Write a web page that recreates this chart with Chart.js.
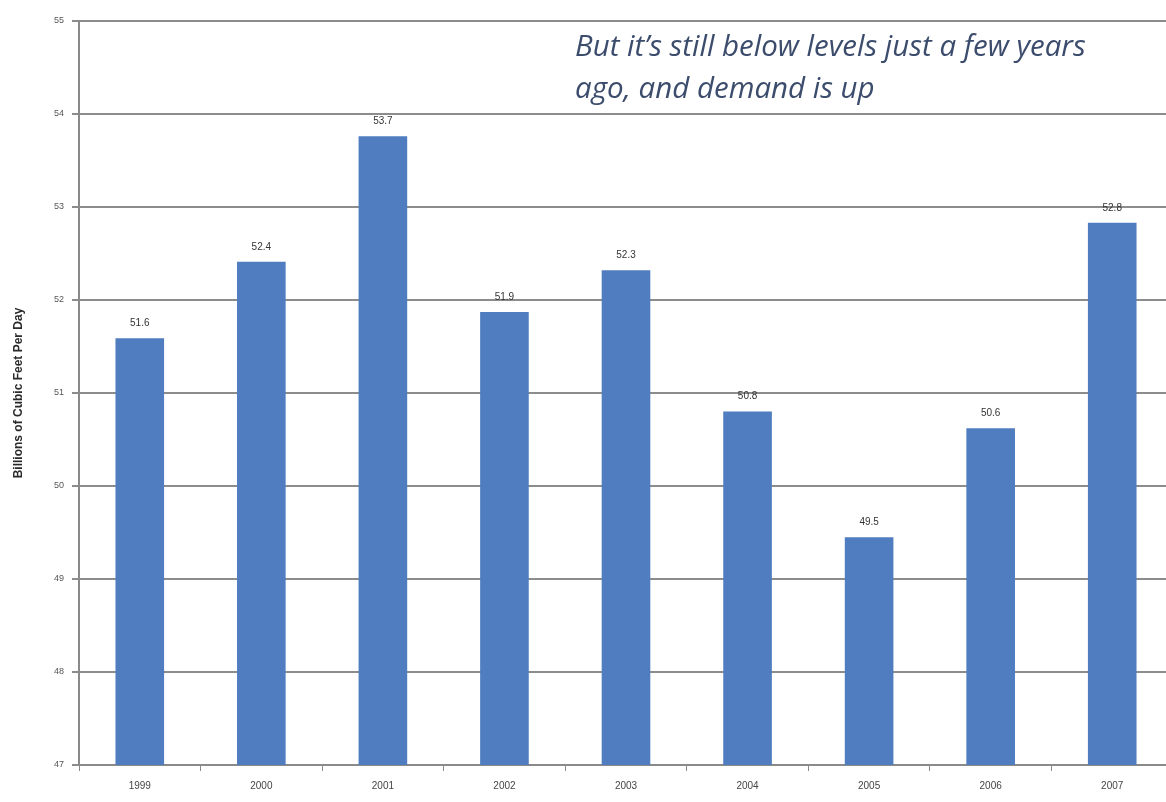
<!DOCTYPE html>
<html>
<head>
<meta charset="utf-8">
<script src="https://cdn.jsdelivr.net/npm/chart.js@4.4.1/dist/chart.umd.min.js"></script>
<style>
  html, body { margin: 0; padding: 0; background: #ffffff; overflow: hidden; }
  #wrap { position: relative; width: 1173px; height: 802px; }
</style>
</head>
<body>
<div id="wrap"><canvas id="c"></canvas></div>
<script>
const categories = ['1999', '2000', '2001', '2002', '2003', '2004', '2005', '2006', '2007'];
const values = [51.59, 52.41, 53.76, 51.87, 52.32, 50.80, 49.45, 50.62, 52.83];
const valueLabels = ['51.6', '52.4', '53.7', '51.9', '52.3', '50.8', '49.5', '50.6', '52.8'];
const yTicks = [47, 48, 49, 50, 51, 52, 53, 54, 55];
const annotationLines = ['But it\u2019s still below levels just a few years', 'ago, and demand is up'];
const yTitle = 'Billions of Cubic Feet Per Day';

const labelPlugin = {
  id: 'labels',
  afterDatasetsDraw(chart) {
    const ctx = chart.ctx;
    const meta = chart.getDatasetMeta(0);
    ctx.save();
    ctx.font = '10px "Liberation Sans", Arial, sans-serif';
    ctx.fillStyle = '#333333';
    ctx.textAlign = 'center';
    ctx.textBaseline = 'bottom';
    meta.data.forEach((bar, i) => {
      ctx.fillText(valueLabels[i], bar.x, bar.y - 10);
    });
    ctx.font = 'italic 29.5px "Open Sans", "Noto Sans", sans-serif';
    ctx.fillStyle = '#3c4c6c';
    ctx.textAlign = 'left';
    ctx.textBaseline = 'alphabetic';
    ctx.fillText(annotationLines[0], 575, 56);
    ctx.fillText(annotationLines[1], 575, 98);
    ctx.restore();
  }
};

new Chart(document.getElementById('c'), {
  type: 'bar',
  data: {
    labels: categories,
    datasets: [{
      data: values,
      backgroundColor: '#4f7dbf',
      borderWidth: 0,
      barPercentage: 0.4,
      categoryPercentage: 1.0
    }]
  },
  options: {
    responsive: true,
    maintainAspectRatio: false,
    animation: false,
    layout: { padding: { top: 21, right: 0, left: 0, bottom: 0 } },
    plugins: { legend: { display: false }, tooltip: { enabled: false } },
    scales: {
      x: {
        offset: true,
        grid: {
          offset: true,
          drawOnChartArea: false,
          drawTicks: true,
          tickLength: 6,
          color: '#8a8a8a',
          lineWidth: 1
        },
        border: { color: '#8a8a8a', width: 2 },
        ticks: {
          color: '#444444',
          font: { size: 10, family: '"Liberation Sans", Arial, sans-serif' },
          padding: 9,
          maxRotation: 0
        },
        afterFit(scale) { scale.height = 37; }
      },
      y: {
        min: 47,
        max: 55,
        afterBuildTicks(scale) { scale.ticks = yTicks.map(v => ({ value: v })); },
        grid: {
          color: '#8c8c8c',
          lineWidth: 2,
          tickLength: 7,
          drawTicks: true
        },
        border: { color: '#8a8a8a', width: 2 },
        ticks: {
          color: '#555555',
          font: { size: 9, family: '"Liberation Sans", Arial, sans-serif' },
          padding: 8
        },
        title: {
          display: true,
          text: yTitle,
          color: '#2a2a2a',
          font: { size: 12, weight: 'bold', family: '"Liberation Sans", Arial, sans-serif' },
          padding: { top: 11, bottom: 0 }
        },
        afterFit(scale) { scale.width = 79; }
      }
    }
  },
  plugins: [labelPlugin]
});
</script>
</body>
</html>
